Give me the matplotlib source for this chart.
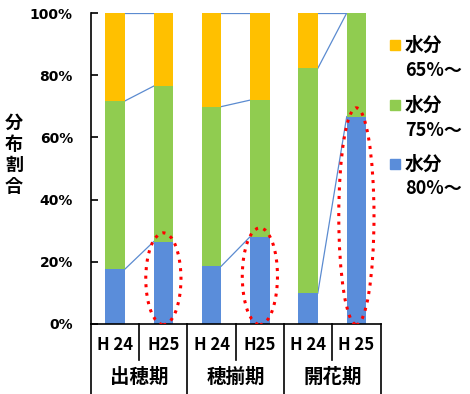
import numpy as np
import matplotlib.pyplot as plt
from matplotlib.patches import Ellipse, Rectangle

plt.rcParams['font.family'] = ['Noto Sans CJK JP', 'DejaVu Sans']

# data (percent of samples per moisture class)
years = ['H 24', 'H25', 'H 24', 'H25', 'H 24', 'H 25']
stages = ['出穂期', '穂揃期', '開花期']
m80 = [17.6, 26.5, 18.6, 28.1, 9.9, 66.7]    # 水分80%～
m75 = [54.1, 50.0, 51.3, 43.9, 72.3, 33.3]   # 水分75%～
m65 = [28.3, 23.5, 30.1, 28.0, 17.8, 0.0]    # 水分65%～
legend_labels = ['水分\n65%～', '水分\n75%～', '水分\n80%～']

c_blue = '#5A8DDA'
c_green = '#90CC50'
c_orange = '#FFC000'
c_line = '#5B8BD0'

fig = plt.figure(figsize=(4.7, 3.94), dpi=100)
ax = fig.add_axes([0.1936, 0.1777, 0.616, 0.7893])

x = np.arange(len(years))
w = 0.4
b80 = np.array(m80)
b75 = np.array(m75)
b65 = np.array(m65)
ax.bar(x, b80, w, color=c_blue, zorder=2)
ax.bar(x, b75, w, bottom=b80, color=c_green, zorder=2)
ax.bar(x, b65, w, bottom=b80 + b75, color=c_orange, zorder=2)

# series lines inside each group
levels = [b80, b80 + b75, b80 + b75 + b65]
for g in range(len(stages)):
    i, j = 2 * g, 2 * g + 1
    for lv in levels:
        ax.plot([x[i] + w / 2, x[j] - w / 2], [lv[i], lv[j]],
                color=c_line, lw=0.9, zorder=1)

# red dotted ellipses round the H25 blue bars
for i in [1, 3, 5]:
    h = b80[i] + 3
    ax.add_patch(Ellipse((x[i], h / 2 - 0.2), 0.73, h, fill=False,
                         edgecolor='red', lw=2.2, ls=(0, (1, 1.8)), zorder=3))

ax.set_xlim(-0.5, 5.5)
ax.set_ylim(0, 100)
ax.set_yticks(np.arange(0, 101, 20))
ax.set_yticklabels([f'{v}%' for v in range(0, 101, 20)],
                   fontsize=10, fontweight='bold', family='DejaVu Sans')
ax.tick_params(axis='y', direction='in', length=5, width=1.2, pad=13)
ax.set_xticks([])
for s in ['top', 'right']:
    ax.spines[s].set_visible(False)
ax.spines['left'].set_linewidth(1.2)
ax.spines['bottom'].set_linewidth(1.2)

# category axis: labels and separators
tr = ax.get_xaxis_transform()
for i, lab in enumerate(years):
    ax.text(x[i], -0.068, lab, transform=tr, ha='center', va='center',
            fontsize=12, fontweight='bold')
for g, st in enumerate(stages):
    ax.text(2 * g + 0.5, -0.172, st, transform=tr, ha='center', va='center',
            fontsize=14, fontweight='bold')
for xb in np.arange(-0.5, 6, 2):
    ax.plot([xb, xb], [0, -0.23], transform=tr, color='black', lw=1.2,
            clip_on=False)
for xb in np.arange(0.5, 6, 2):
    ax.plot([xb, xb], [0, -0.116], transform=tr, color='black', lw=1.2,
            clip_on=False)

fig.text(14 / 470, 1 - 155 / 394, '分\n布\n割\n合', ha='center', va='center',
         fontsize=13, fontweight='bold', linespacing=1.15)

# legend drawn by hand
leg_colors = [c_orange, c_green, c_blue]
leg_y = [45, 105, 164]
for col, lab, yy in zip(leg_colors, legend_labels, leg_y):
    fig.add_artist(Rectangle((390 / 470, 1 - (yy + 5) / 394), 10 / 470, 10 / 394,
                             transform=fig.transFigure, color=col))
    first, second = lab.split('\n')
    fig.text(405 / 470, 1 - yy / 394, first, ha='left', va='center',
             fontsize=13.5, fontweight='bold')
    fig.text(405 / 470, 1 - (yy + 25) / 394, second, ha='left', va='center',
             fontsize=13, fontweight='bold')

fig.savefig('out.png', dpi=100)
